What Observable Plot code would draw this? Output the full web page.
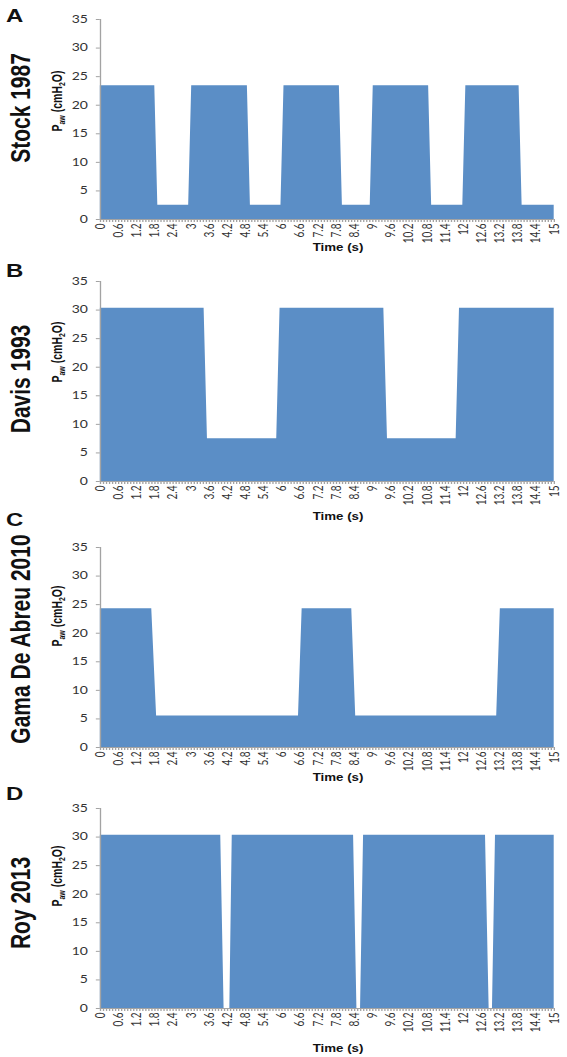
<!DOCTYPE html>
<html>
<head>
<meta charset="utf-8">
<script src="https://cdn.jsdelivr.net/npm/d3@7"></script>
<script src="https://cdn.jsdelivr.net/npm/@observablehq/plot@0.6"></script>
<style>
  html, body { margin: 0; padding: 0; background: #fff; }
  /* the figure is laid out at 426px and stretched horizontally to the 567px page */
  #fig { position: relative; width: 426px; height: 1057px; transform: scaleX(1.331); transform-origin: 0 0; }
  #fig > svg { position: absolute; left: 0; }
</style>
</head>
<body>
<div id="fig"></div>
<script>
// Ventilation pressure waveforms (airway pressure vs time) for four protocols
const studies = ["Stock 1987", "Davis 1993", "Gama De Abreu 2010", "Roy 2013"];
const panelLetters = ["A", "B", "C", "D"];

// Stock 1987
const stockTime = [0, 1.8, 1.9, 2.92, 3.02, 4.86, 4.96, 5.97, 6.07, 7.9, 8.0, 8.92, 9.02, 10.85, 10.95, 11.98, 12.08, 13.84, 13.94, 15];
const stockPaw  = [23.4, 23.4, 2.5, 2.5, 23.4, 23.4, 2.5, 2.5, 23.4, 23.4, 2.5, 2.5, 23.4, 23.4, 2.5, 2.5, 23.4, 23.4, 2.5, 2.5];

// Davis 1993
const davisTime = [0, 3.43, 3.54, 5.83, 5.94, 9.37, 9.49, 11.76, 11.87, 15];
const davisPaw  = [30.3, 30.3, 7.5, 7.5, 30.3, 30.3, 7.5, 7.5, 30.3, 30.3];

// Gama De Abreu 2010
const gamaTime = [0, 1.7, 1.86, 6.55, 6.67, 8.31, 8.44, 13.1, 13.22, 15];
const gamaPaw  = [24.3, 24.3, 5.5, 5.5, 24.3, 24.3, 5.5, 5.5, 24.3, 24.3];

// Roy 2013
const royTime = [0, 3.98, 4.09, 4.28, 4.36, 8.37, 8.48, 8.6, 8.7, 12.73, 12.85, 12.96, 13.06, 15];
const royPaw  = [30.3, 30.3, 0, 0, 30.3, 30.3, 0, 0, 30.3, 30.3, 0, 0, 30.3, 30.3];

// Axis ticks
const xTickLabels = [0, 0.6, 1.2, 1.8, 2.4, 3, 3.6, 4.2, 4.8, 5.4, 6, 6.6, 7.2, 7.8, 8.4, 9, 9.6, 10.2, 10.8, 11.4, 12, 12.6, 13.2, 13.8, 14.4, 15];
const yTicks = [0, 5, 10, 15, 20, 25, 30, 35];
const minorTicks = d3.range(0, 151).map(i => i / 10); // a small tick every 0.1 s

const series = [
  {time: stockTime, paw: stockPaw},
  {time: davisTime, paw: davisPaw},
  {time: gamaTime, paw: gamaPaw},
  {time: royTime, paw: royPaw}
];

// page layout of each panel (vertical pixel positions)
const layout = [
  {top: 0,   letterY: 22,  studyY: 108, ylabY: 101, timeY: 251},
  {top: 262, letterY: 277, studyY: 379, ylabY: 352, timeY: 520},
  {top: 528, letterY: 526, studyY: 639, ylabY: 616, timeY: 781},
  {top: 789, letterY: 800, studyY: 903, ylabY: 876, timeY: 1052}
];

const W = 426;
const fill = "#5b8ec6";
const axisGray = "#a3a3a3";
const fig = document.getElementById("fig");

function panel(time, paw) {
  const rows = time.map((t, i) => ({t, p: paw[i]}));
  return Plot.plot({
    width: W,
    height: 250,
    marginTop: 19,
    marginBottom: 31,
    marginLeft: 75,
    marginRight: 10,
    style: {background: "transparent", overflow: "visible", fontFamily: "Lato, 'Open Sans', sans-serif"},
    x: {domain: [0, 15]},
    y: {domain: [0, 35]},
    marks: [
      Plot.areaY(rows, {x: "t", y: "p", fill, curve: "linear"}),
      Plot.axisY(yTicks, {tickSize: 3, tickPadding: 6.5, fontSize: 10.5, stroke: axisGray, fill: "#333", label: null}),
      Plot.axisX(minorTicks, {tickSize: 3, tickFormat: () => "", stroke: axisGray, label: null}),
      Plot.axisX(xTickLabels, {tickSize: 0, tickPadding: 4, tickRotate: -90, fontSize: 10, fill: "#333", tickFormat: d => String(d), label: null}),
      Plot.ruleY([0], {stroke: axisGray}),
      Plot.ruleX([0], {stroke: axisGray})
    ]
  });
}

series.forEach((s, i) => {
  const svg = panel(s.time, s.paw);
  svg.style.position = "absolute";
  svg.style.top = layout[i].top + "px";
  fig.appendChild(svg);
});

// panel letters, study names and axis titles
const ov = d3.select(fig).append("svg")
  .attr("width", W).attr("height", 1057)
  .style("top", "0px")
  .attr("font-family", "'Liberation Sans', Arial, sans-serif")
  .attr("font-weight", "bold")
  .attr("fill", "#111");

layout.forEach((L, i) => {
  ov.append("text")
    .attr("x", 4.5).attr("y", L.letterY)
    .attr("font-size", 18)
    .text(panelLetters[i]);

  ov.append("text")
    .attr("transform", `translate(22.5,${L.studyY}) rotate(-90)`)
    .attr("text-anchor", "middle")
    .attr("font-size", 21)
    .text(studies[i]);

  const yl = ov.append("text")
    .attr("transform", `translate(46.4,${L.ylabY}) rotate(-90)`)
    .attr("text-anchor", "middle")
    .attr("font-size", 10.5);
  yl.append("tspan").text("P");
  yl.append("tspan").attr("font-size", 7).attr("dy", 2.5).text("aw");
  yl.append("tspan").attr("dy", -2.5).text(" (cmH");
  yl.append("tspan").attr("font-size", 7).attr("dy", 2.5).text("2");
  yl.append("tspan").attr("dy", -2.5).text("O)");

  ov.append("text")
    .attr("x", 254).attr("y", L.timeY)
    .attr("text-anchor", "middle")
    .attr("font-size", 10)
    .text("Time (s)");
});
</script>
</body>
</html>
